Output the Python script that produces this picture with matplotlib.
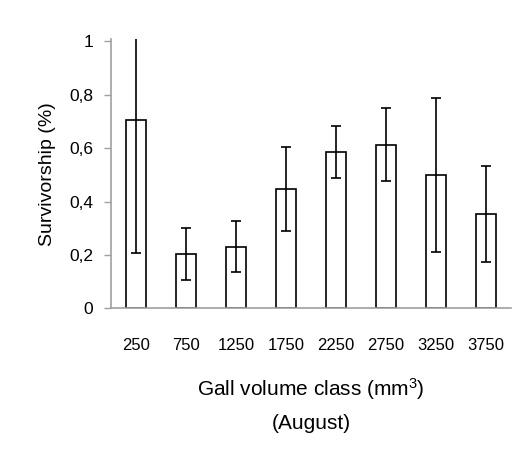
import matplotlib
matplotlib.use("Agg")
import matplotlib.pyplot as plt
import numpy as np

plt.rcParams['font.family'] = ['Liberation Sans', 'DejaVu Sans']
plt.rcParams['mathtext.fontset'] = 'custom'
plt.rcParams['mathtext.rm'] = 'Liberation Sans'

classes = ['250', '750', '1250', '1750', '2250', '2750', '3250', '3750']
survival = [0.706, 0.204, 0.231, 0.448, 0.587, 0.614, 0.499, 0.355]
errors = [0.50, 0.097, 0.095, 0.157, 0.097, 0.137, 0.289, 0.18]
yticks = [0, 0.2, 0.4, 0.6, 0.8, 1]
ytick_labels = ['0', '0,2', '0,4', '0,6', '0,8', '1']

fig = plt.figure(figsize=(5.16, 4.63), dpi=100)
ax = fig.add_axes([0.215, 0.3337, 0.775, 0.5825])

x = np.arange(len(classes))
ax.bar(x, survival, width=0.4, color='white', edgecolor='black', linewidth=1.2, zorder=2)
ax.errorbar(x, survival, yerr=errors, fmt='none', ecolor='black',
            elinewidth=1.2, capsize=3.5, capthick=1.2, zorder=3)

ax.set_xlim(-0.5, 7.5)
ax.set_ylim(0, 1.01)
ax.set_yticks(yticks)
ax.set_yticklabels(ytick_labels, fontsize=12.5)
ax.set_xticks(x)
ax.set_xticklabels(classes, fontsize=12)
ax.tick_params(axis='x', length=0, pad=21)
ax.tick_params(axis='y', length=5, width=1, color='#a0a0a0', pad=8)

for s in ['top', 'right']:
    ax.spines[s].set_visible(False)
for s in ['left', 'bottom']:
    ax.spines[s].set_color('#a0a0a0')
    ax.spines[s].set_linewidth(1.2)

ax.set_ylabel('Survivorship (%)', fontsize=14, labelpad=9)
ax.set_xlabel('Gall volume class (mm$\\mathrm{^3}$)\n(August)', fontsize=15, labelpad=17,
              linespacing=1.8)

fig.savefig('out.png', dpi=100)
